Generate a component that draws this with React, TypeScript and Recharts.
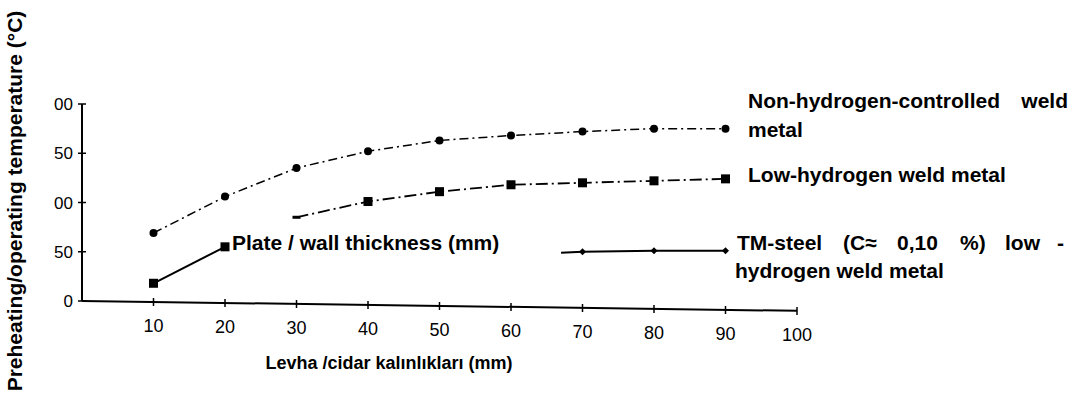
import React from "react";
import { LineChart, Line, XAxis, YAxis, ReferenceLine } from "recharts";

const thickness = [10, 20, 30, 40, 50, 60, 70, 80, 90];
const nonHydrogen = [69, 106, 135, 152, 163, 168, 172, 175, 175];
const lowHydrogen = [18, 55, 85, 101, 111, 118, 120, 122, 124];
const tmThickness = [67, 70, 80, 90];
const tmSteel = [49, 50, 51, 51];
const xTicks = [10, 20, 30, 40, 50, 60, 70, 80, 90, 100];
const yTicks = [0, 50, 100, 150, 200];
const yTickLabels = ["0", "50", "00", "50", "00"];

const nonData = thickness.map((x, i) => ({ x, y: nonHydrogen[i] }));
const lowDataA = thickness.slice(0, 2).map((x, i) => ({ x, y: lowHydrogen[i] }));
const lowDataB = thickness.slice(2).map((x, i) => ({ x, y: lowHydrogen[i + 2] }));
const tmData = tmThickness.map((x, i) => ({ x, y: tmSteel[i] }));

const TILT = 0.1; // scanned figure: x axis drifts down to the right
const tickFont = "'Liberation Sans', Arial, Helvetica, sans-serif";
const boldFont = "'Liberation Sans', Arial, sans-serif";

const XTick = (props: any) => {
  const { x, y, payload } = props;
  const dy = payload.value * TILT;
  return (
    <g>
      <line x1={x} x2={x} y1={y - 4 + dy} y2={y + 4 + dy} stroke="#000" strokeWidth={1.5} />
      <text x={x} y={y + 30 + dy} textAnchor="middle" fontSize={18} fontFamily={tickFont} fill="#000">
        {payload.value}
      </text>
    </g>
  );
};

const YTick = (props: any) => {
  const { x, y, payload } = props;
  const idx = yTicks.indexOf(payload.value);
  return (
    <g>
      <line x1={x - 4} x2={x + 4} y1={y} y2={y} stroke="#000" strokeWidth={1.5} />
      <text x={x - 9} y={y} dy="0.36em" textAnchor="end" fontSize={17} fontFamily={tickFont} fill="#000">
        {yTickLabels[idx]}
      </text>
    </g>
  );
};

const CircleDot = (props: any) => {
  const { cx, cy, index } = props;
  return <circle key={index} cx={cx} cy={cy} r={4} fill="#000" />;
};

const SquareDot = (props: any) => {
  const { cx, cy, index } = props;
  return <rect key={index} x={cx - 4.5} y={cy - 4.5} width={9} height={9} fill="#000" />;
};

const SquareDotB = (props: any) => {
  const { cx, cy, index } = props;
  if (index === 0) return <rect key={index} x={cx - 4} y={cy - 1.5} width={8} height={3} fill="#000" />;
  return <rect key={index} x={cx - 4.5} y={cy - 4.5} width={9} height={9} fill="#000" />;
};

const DiamondDot = (props: any) => {
  const { cx, cy, index } = props;
  if (index === 0) return <g key={index} />;
  return <path key={index} d={`M${cx},${cy - 3.5} L${cx + 3.5},${cy} L${cx},${cy + 3.5} L${cx - 3.5},${cy} Z`} fill="#000" />;
};

export default function App() {
  return (
    <div style={{ position: "absolute", left: 0, top: 0, width: 1075, height: 397, background: "#fff" }}>
      <LineChart
        width={1075}
        height={397}
        margin={{ top: 104, right: 278, bottom: 0, left: 0 }}
      >
        <XAxis
          dataKey="x"
          type="number"
          domain={[0, 100]}
          ticks={xTicks}
          axisLine={false}
          tickLine={false}
          tickSize={0}
          tickMargin={0}
          height={96}
          tick={<XTick />}
          interval={0}
          allowDataOverflow
        />
        <YAxis
          type="number"
          domain={[0, 200]}
          ticks={yTicks}
          width={82}
          axisLine={{ stroke: "#000", strokeWidth: 2 }}
          tickLine={false}
          tickSize={0}
          tickMargin={0}
          tick={<YTick />}
          interval={0}
          allowDataOverflow
        />
        <ReferenceLine
          segment={[{ x: 0, y: 0 }, { x: 100, y: -10 }]}
          stroke="#000"
          strokeWidth={2}
          ifOverflow="visible"
        />
        <Line
          data={nonData}
          dataKey="y"
          type="linear"
          stroke="#000"
          strokeWidth={1.5}
          strokeDasharray="9 4 2 4"
          dot={CircleDot}
          activeDot={false}
          isAnimationActive={false}
        />
        <Line
          data={lowDataA}
          dataKey="y"
          type="linear"
          stroke="#000"
          strokeWidth={2}
          dot={SquareDot}
          activeDot={false}
          isAnimationActive={false}
        />
        <Line
          data={lowDataB}
          dataKey="y"
          type="linear"
          stroke="#000"
          strokeWidth={1.8}
          strokeDasharray="12 4 2 4"
          dot={SquareDotB}
          activeDot={false}
          isAnimationActive={false}
        />
        <Line
          data={tmData}
          dataKey="y"
          type="linear"
          stroke="#000"
          strokeWidth={1.8}
          dot={DiamondDot}
          activeDot={false}
          isAnimationActive={false}
        />
      </LineChart>
      <svg
        width={1075}
        height={397}
        style={{ position: "absolute", left: 0, top: 0, pointerEvents: "none" }}
      >
        <g fontFamily={boldFont} fontWeight="bold" fontSize={21} fill="#000">
          <text x={14} y={201} textAnchor="middle" dy="0.36em" transform="rotate(-90 14 201)">
            Preheating/operating temperature (°C)
          </text>
          <text x={232} y={250}>Plate / wall thickness (mm)</text>
          <text x={748} y={108}>Non-hydrogen-controlled</text>
          <text x={1068} y={108} textAnchor="end">weld</text>
          <text x={748} y={137}>metal</text>
          <text x={748} y={182}>Low-hydrogen weld metal</text>
          <text x={737} y={250}>TM-steel</text>
          <text x={843} y={250}>(C≈</text>
          <text x={897} y={250}>0,10</text>
          <text x={960} y={250}>%)</text>
          <text x={1005} y={250}>low</text>
          <text x={1057} y={250}>-</text>
          <text x={735} y={278}>hydrogen weld metal</text>
        </g>
        <text x={389} y={369} textAnchor="middle" fontFamily={tickFont} fontWeight="bold" fontSize={18} fill="#000">
          Levha /cidar kalınlıkları (mm)
        </text>
      </svg>
    </div>
  );
}
